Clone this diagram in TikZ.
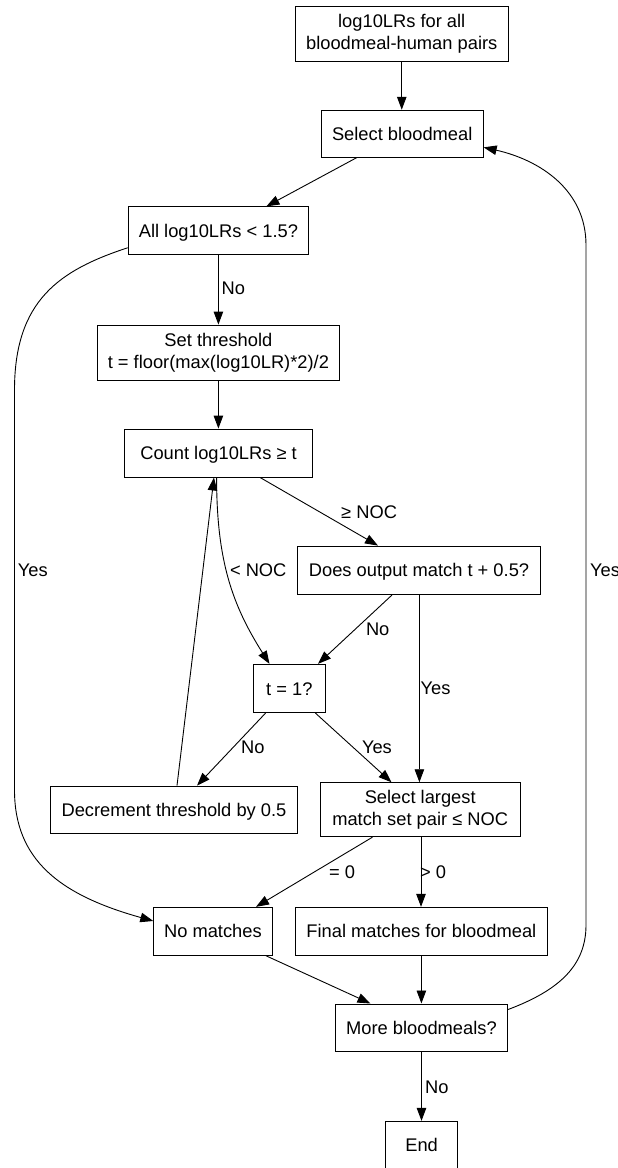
\documentclass[tikz,border=0pt]{standalone}
\usepackage{fontspec}
\setmainfont{Liberation Sans}
\usetikzlibrary{arrows.meta}
\begin{document}
\begin{tikzpicture}[x=1pt,y=-1pt,
  box/.style={draw, line width=0.9pt, inner sep=0pt, align=center, font=\fontsize{18.3}{21.8}\selectfont},
  one/.style={text height=13.3pt, text depth=0pt},
  lbl/.style={inner sep=0pt, anchor=base west, font=\fontsize{18.3}{21.8}\selectfont},
  conn/.style={line width=0.9pt, -{Triangle[length=13pt,width=9.5pt]}}]
\useasboundingbox (0,0) rectangle (618,1168);
% nodes
\node[box, minimum width=213.5pt, minimum height=55pt] (top) at (401.75,33.5) {log10LRs for all\\bloodmeal-human pairs};
\node[box, one, minimum width=162pt, minimum height=47pt] (sel) at (402.2,133.7) {Select bloodmeal};
\node[box, one, minimum width=180.5pt, minimum height=48pt] (all) at (218.4,230.8) {All log10LRs < 1.5?};
\node[box, minimum width=242.8pt, minimum height=55pt] (set) at (218.4,352.5) {Set threshold\\t = floor(max(log10LR)*2)/2};
\node[box, one, minimum width=188pt, minimum height=48pt] (count) at (218.6,453) {Count log10LRs ≥ t};
\node[box, one, minimum width=242.8pt, minimum height=48.5pt] (does) at (419,570.3) {Does output match t + 0.5?};
\node[box, one, minimum width=71.8pt, minimum height=48.4pt] (t1) at (289.3,688.5) {t = 1?};
\node[box, one, minimum width=246.4pt, minimum height=47.3pt] (dec) at (174,809.7) {Decrement threshold by 0.5};
\node[box, minimum width=200.3pt, minimum height=54pt] (sl) at (420.2,809.7) {Select largest\\match set pair ≤ NOC};
\node[box, one, minimum width=118.3pt, minimum height=48pt] (nom) at (212.9,931.3) {No matches};
\node[box, one, minimum width=251.5pt, minimum height=48pt] (fin) at (421.4,931.3) {Final matches for bloodmeal};
\node[box, one, minimum width=172.3pt, minimum height=47.7pt] (more) at (421.5,1027.8) {More bloodmeals?};
\node[box, one, minimum width=71.7pt, minimum height=48pt] (end) at (421.6,1145.3) {End};
% connectors
\draw[conn] (top.south) -- (top.south |- sel.north);
\draw[conn] ([xshift=-45.5pt]sel.south) -- ([xshift=48pt]all.north);
\draw[conn] (all.south) -- (all.south |- set.north);
\draw[conn] (set.south) -- (set.south |- count.north);
\draw[conn] ([xshift=41.4pt]count.south) -- ([xshift=-41pt]does.north);
\draw[conn] ([xshift=-2pt]count.south) .. controls +(0,83) and +(-37.5,-59.3) .. ([xshift=-19.8pt]t1.north);
\draw[conn] ([xshift=3pt]dec.north) -- ([xshift=-4.6pt]count.south);
\draw[conn] ([xshift=-27pt]does.south) -- ([xshift=28.7pt]t1.north);
\draw[conn] ([xshift=0.4pt]does.south) -- ([xshift=0.4pt]does.south |- sl.north);
\draw[conn] ([xshift=-23.8pt]t1.south) -- ([xshift=23pt]dec.north);
\draw[conn] ([xshift=26.2pt]t1.south) -- ([xshift=-28.7pt]sl.north);
\draw[conn] ([xshift=-47.7pt]sl.south) -- ([xshift=43.1pt]nom.north);
\draw[conn] ([xshift=0.8pt]sl.south) -- ([xshift=0.8pt]sl.south |- fin.north);
\draw[conn] ([xshift=53.1pt]nom.south) -- ([xshift=-51pt]more.north);
\draw[conn] (fin.south) -- (fin.south |- more.north);
\draw[conn] (more.south) -- (more.south |- end.north);
\draw[conn] ([yshift=7.5pt]all.south west) .. controls (60,270) and (14.5,300) .. (14.5,390) -- (14.5,790) .. controls (14.5,860) and (60,895) .. ([yshift=10.3pt]nom.west);
\draw[conn] ([yshift=-6pt]more.north east) .. controls (560,990) and (586,965) .. (586,925) -- (586,245) .. controls (586,190) and (540,160) .. ([yshift=10.3pt]sel.south east);
% labels
\node[lbl] (l1) at (221.5,294.9) {No};
\node[lbl] (l2) at (341,518.3) {≥ NOC};
\node[lbl] (l3) at (229.8,576.6) {< NOC};
\node[lbl] (l4) at (365.8,635.3) {No};
\node[lbl] (l5) at (420.5,694.6) {Yes};
\node[lbl] (l6) at (241,753.3) {No};
\node[lbl] (l7) at (361.8,753.3) {Yes};
\node[lbl] (l8) at (329,878.3) {= 0};
\node[lbl] (l9) at (420,878.3) {> 0};
\node[lbl] (l10) at (425,1093.3) {No};
\node[lbl] (l11) at (17.7,576.6) {Yes};
\node[lbl] (l12) at (590,576.6) {Yes};
\end{tikzpicture}
\end{document}
